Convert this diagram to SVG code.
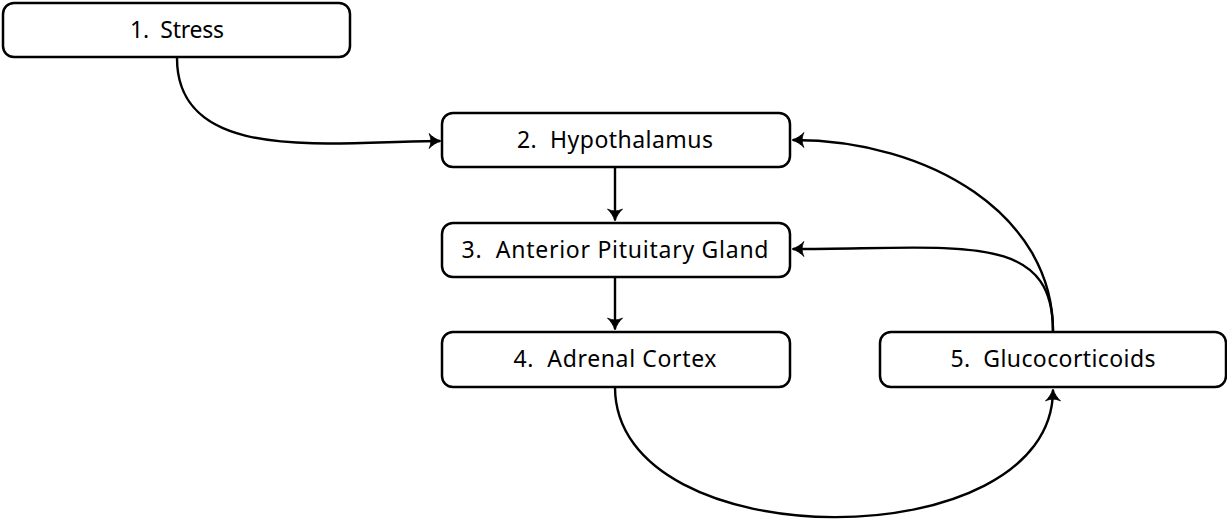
<svg xmlns="http://www.w3.org/2000/svg" width="1227" height="520" viewBox="0 0 1227 520">
<defs>
<style>
.node rect{fill:#fff;stroke:#000;stroke-width:2.5}
.node text{font-family:"Noto Sans","Liberation Sans",sans-serif;font-size:23px;fill:#000;text-anchor:middle;white-space:pre}
.edges path{fill:none;stroke:#000;stroke-width:2.4}
</style>
<marker id="arr" viewBox="-13 -9 15 18" refX="0" refY="0" markerWidth="15" markerHeight="18" markerUnits="userSpaceOnUse" orient="auto">
<path d="M1,0 C-4,-1.5 -8,-4.5 -11,-7.5 C-8.5,-2.6 -8.5,2.6 -11,7.5 C-8,4.5 -4,1.5 1,0 Z" fill="#000" stroke="#000" stroke-width="0.8" stroke-linejoin="round"/>
</marker>
</defs>
<rect width="1227" height="520" fill="#fff"/>
<g class="edges">
<path d="M177,58 C177,166 333,141 440,141" marker-end="url(#arr)"/>
<path d="M615,167 L615,220" marker-end="url(#arr)"/>
<path d="M615,277 L615,329" marker-end="url(#arr)"/>
<path d="M615,387 C615,560 1053,560 1053,390" marker-end="url(#arr)"/>
<path d="M1053,331 C1053,215 930,140 793,140" marker-end="url(#arr)"/>
<path d="M1053,331 C1053,230 960,249 793,249" marker-end="url(#arr)"/>
</g>
<g id="n1" class="node"><rect x="3" y="3" width="347" height="54" rx="11"/><text x="177" y="38" textLength="94" lengthAdjust="spacing" xml:space="preserve">1.  Stress</text></g>
<g id="n2" class="node"><rect x="442" y="113" width="348" height="54" rx="11"/><text x="615" y="148" textLength="196" lengthAdjust="spacing" xml:space="preserve">2.  Hypothalamus</text></g>
<g id="n3" class="node"><rect x="442" y="223" width="348" height="54" rx="11"/><text x="615" y="258" textLength="307" lengthAdjust="spacing" xml:space="preserve">3.  Anterior Pituitary Gland</text></g>
<g id="n4" class="node"><rect x="442" y="332" width="348" height="55" rx="11"/><text x="615" y="367" textLength="203" lengthAdjust="spacing" xml:space="preserve">4.  Adrenal Cortex</text></g>
<g id="n5" class="node"><rect x="880" y="332" width="346" height="55" rx="11"/><text x="1053" y="367" textLength="205" lengthAdjust="spacing" xml:space="preserve">5.  Glucocorticoids</text></g>
</svg>
